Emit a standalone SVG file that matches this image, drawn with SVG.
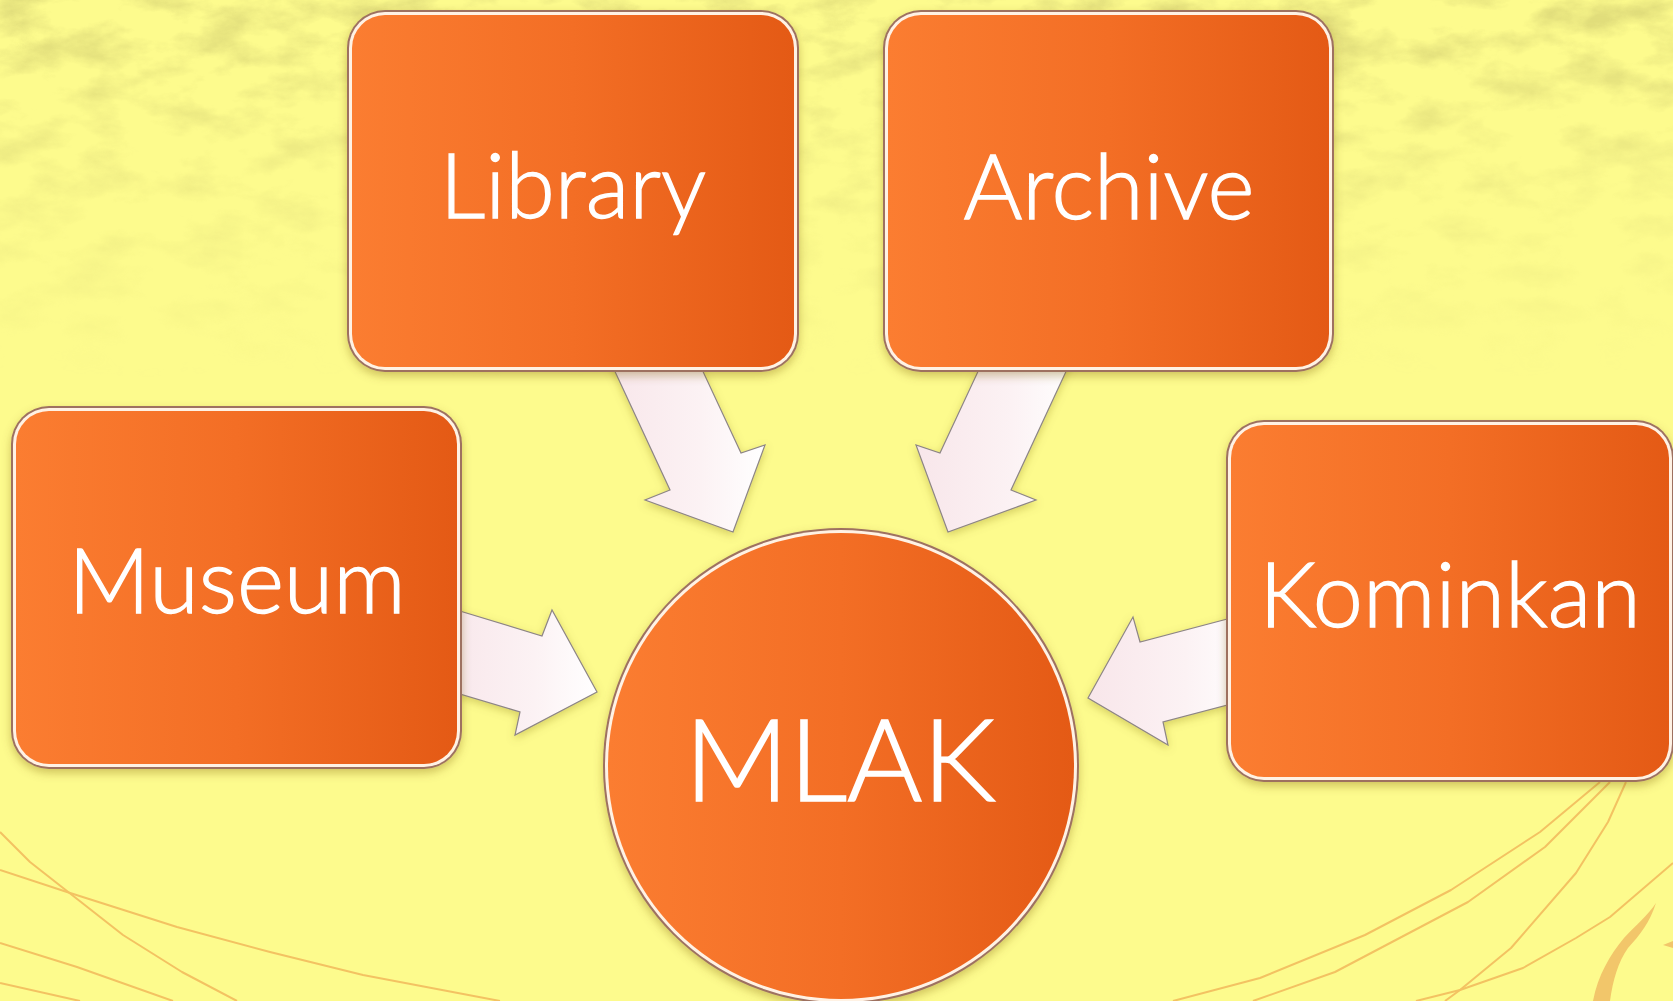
<svg xmlns="http://www.w3.org/2000/svg" width="1673" height="1001" viewBox="0 0 1673 1001">
  <style>
    .lbl { font-family: "Lato", "Open Sans", "Liberation Sans", sans-serif; font-weight: 300; fill: #ffffff; stroke: #ffffff; stroke-width: 1.3; text-anchor: middle; font-size: 90px; }
    .big { font-size: 115px; stroke-width: 1.6; }
    .edge { fill: #9e7161; filter: url(#shadow); }
    .rim { fill: #fff2e4; }
    .face { fill: url(#orange); }
    .arrow { fill: url(#arrowFill); stroke: #8d8585; stroke-width: 1.2; stroke-linejoin: miter; filter: url(#ashadow); }
    .deco { fill: none; stroke: #f3c262; stroke-width: 2; stroke-linejoin: round; }
  </style>
  <defs>
    <linearGradient id="orange" x1="0" y1="0" x2="1" y2="0">
      <stop offset="0" stop-color="#fb7d31"/>
      <stop offset="0.5" stop-color="#f36e25"/>
      <stop offset="1" stop-color="#e45a15"/>
    </linearGradient>
    <linearGradient id="arrowFill" x1="0" y1="0" x2="1" y2="0">
      <stop offset="0" stop-color="#f8e6ea"/>
      <stop offset="0.6" stop-color="#fcf2f4"/>
      <stop offset="1" stop-color="#ffffff"/>
    </linearGradient>
    <linearGradient id="fade" x1="0" y1="0" x2="0" y2="1">
      <stop offset="0" stop-color="#fff" stop-opacity="1"/>
      <stop offset="0.4" stop-color="#fff" stop-opacity="0.5"/>
      <stop offset="1" stop-color="#fff" stop-opacity="0"/>
    </linearGradient>
    <mask id="texMask">
      <rect x="0" y="0" width="1673" height="380" fill="url(#fade)"/>
    </mask>
    <filter id="tex" x="0" y="0" width="100%" height="100%" color-interpolation-filters="sRGB">
      <feTurbulence type="fractalNoise" baseFrequency="0.016 0.03" numOctaves="5" seed="11" result="n"/>
      <feColorMatrix in="n" type="matrix" values="0 0 0 0 0.78  0 0 0 0 0.76  0 0 0 0 0.42  2.6 0 0 0 -1.15"/>
    </filter>
    <filter id="shadow" x="-10%" y="-10%" width="120%" height="125%">
      <feDropShadow dx="0" dy="4" stdDeviation="5" flood-color="#7a5a10" flood-opacity="0.35"/>
    </filter>
    <filter id="ashadow" x="-20%" y="-20%" width="140%" height="140%">
      <feDropShadow dx="0" dy="3" stdDeviation="4" flood-color="#7a6a10" flood-opacity="0.3"/>
    </filter>
  </defs>

  <!-- background -->
  <rect x="0" y="0" width="1673" height="1001" fill="#fdfb8d"/>
  <rect x="0" y="0" width="1673" height="380" filter="url(#tex)" mask="url(#texMask)" opacity="0.55"/>

  <!-- decorative lines -->
  <g id="decor">
    <polyline class="deco" points="0,832 30,862 123,935 182,972 237,1001"/>
    <polyline class="deco" points="0,870 67,892 177,927 270,952 363,975 500,1001"/>
    <polyline class="deco" points="0,943 77,967 173,1001"/>
    <polyline class="deco" points="0,983 80,1001"/>
    <polyline class="deco" points="1600,782 1540,832 1451,890 1365,935 1260,978 1173,1001"/>
    <polyline class="deco" points="1610,782 1545,847 1468,902 1335,972 1253,1001"/>
    <polyline class="deco" points="1626,782 1608,822 1576,873 1511,948 1460,990 1445,1001"/>
    <polyline class="deco" points="1673,863 1610,917 1576,938 1523,968 1460,990 1416,1001"/>
    <path d="M1656,903 C1648,915 1636,925 1624,938 C1610,955 1598,975 1593,1001 L1610,1001 C1613,980 1618,962 1628,948 C1640,935 1650,922 1656,903 Z" fill="#f2c66a"/>
    <path d="M1663,945 L1673,941 L1673,948 Z" fill="#f2c66a"/>
  </g>

  <!-- connectors -->
  <g id="connectors">
    <polygon class="arrow" points="605,350 670,490 645,500 733,532 765,445 741,453 693,350"/>
    <polygon class="arrow" points="1076,350 1011,490 1036,500 948,532 916,445 940,453 988,350"/>
    <polygon class="arrow" points="440,605 542,636 552,610 597,692 515,735 520,712 440,688"/>
    <polygon class="arrow" points="1250,613 1140,642 1133,617 1088,698 1168,745 1163,722 1250,699"/>
  </g>

  <!-- nodes -->
  <g id="node-library">
    <rect class="edge" x="347" y="10" width="452" height="362" rx="38"/>
    <rect class="rim" x="349" y="12" width="448" height="358" rx="36"/>
    <rect class="face" x="352" y="15" width="442" height="352" rx="33"/>
    <text class="lbl" x="573" y="218">Library</text>
  </g>
  <g id="node-archive">
    <rect class="edge" x="883" y="10" width="451" height="362" rx="38"/>
    <rect class="rim" x="885" y="12" width="447" height="358" rx="36"/>
    <rect class="face" x="888" y="15" width="441" height="352" rx="33"/>
    <text class="lbl" x="1109" y="219">Archive</text>
  </g>
  <g id="node-museum">
    <rect class="edge" x="11" y="406" width="451" height="363" rx="38"/>
    <rect class="rim" x="13" y="408" width="447" height="359" rx="36"/>
    <rect class="face" x="16" y="411" width="441" height="353" rx="33"/>
    <text class="lbl" x="237" y="613">Museum</text>
  </g>
  <g id="node-kominkan">
    <rect class="edge" x="1226" y="420" width="448" height="362" rx="38"/>
    <rect class="rim" x="1228" y="422" width="444" height="358" rx="36"/>
    <rect class="face" x="1231" y="425" width="438" height="352" rx="33"/>
    <text class="lbl" x="1450" y="627">Kominkan</text>
  </g>
  <g id="node-mlak">
    <circle class="edge" cx="841" cy="766" r="238"/>
    <circle class="rim" cx="841" cy="766" r="236"/>
    <circle class="face" cx="841" cy="766" r="233"/>
    <text class="lbl big" x="840" y="801">MLAK</text>
  </g>
</svg>
